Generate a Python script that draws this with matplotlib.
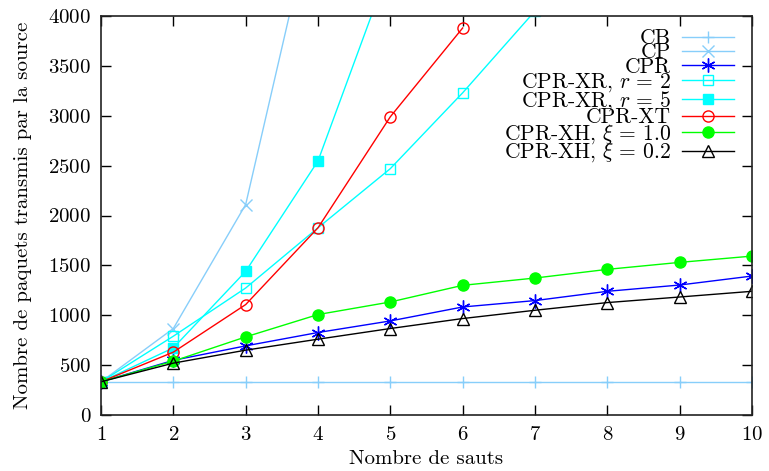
import matplotlib
matplotlib.use("Agg")
import matplotlib.pyplot as plt

plt.rcParams['font.family'] = ['cmr10', 'DejaVu Serif']
plt.rcParams['mathtext.fontset'] = 'cm'
plt.rcParams['axes.formatter.use_mathtext'] = True
plt.rcParams['axes.unicode_minus'] = False

x_all = [1, 2, 3, 4, 5, 6, 7, 8, 9, 10]
cb = [333, 333, 333, 333, 333, 333, 333, 333, 333, 333]
x_cp = [1, 2, 3, 4]
cp = [333, 867, 2110, 5250]
cpr = [333, 548, 693, 827, 943, 1083, 1147, 1240, 1303, 1393]
x_xr2 = [1, 2, 3, 4, 5, 6, 7]
xr2 = [333, 790, 1273, 1877, 2470, 3230, 4050]
x_xr5 = [1, 2, 3, 4, 5]
xr5 = [333, 673, 1440, 2547, 4520]
x_xt = [1, 2, 3, 4, 5, 6]
xt = [333, 630, 1107, 1877, 2990, 3880]
xh10 = [333, 540, 783, 1007, 1133, 1300, 1373, 1460, 1530, 1593]
xh02 = [333, 520, 650, 760, 867, 967, 1050, 1127, 1183, 1240]

fig = plt.figure(figsize=(7.69, 4.71), dpi=100)
ax = fig.add_axes([101/769, 1 - 415/471, (752 - 101)/769, (415 - 16)/471])

lw = 1.0
ax.plot(x_all, cb, color='#87cefa', marker='+', ms=9, mew=1, lw=lw, label='CB')
ax.plot(x_cp, cp, color='#87cefa', marker='x', ms=8, mew=1, lw=lw, label='CP')
ax.plot(x_all, cpr, color='#0000ff', marker=(6, 2, 0), ms=10, mew=1, lw=lw, label='CPR')
ax.plot(x_xr2, xr2, color='#00ffff', marker='s', mfc='none', ms=7, mew=1, lw=lw, label='CPR-XR, $r\\,=\\,2$')
ax.plot(x_xr5, xr5, color='#00ffff', marker='s', ms=7, mew=1, lw=lw, label='CPR-XR, $r\\,=\\,5$')
ax.plot(x_xt, xt, color='#ff0000', marker='o', mfc='none', ms=8, mew=1, lw=lw, label='CPR-XT')
ax.plot(x_all, xh10, color='#00ff00', marker='o', ms=8, mew=1, lw=lw, label=r'CPR-XH, $\xi\,=\,1.0$')
ax.plot(x_all, xh02, color='#000000', marker='^', mfc='none', ms=9, mew=1, lw=lw, label=r'CPR-XH, $\xi\,=\,0.2$')

ax.set_xlim(1, 10)
ax.set_ylim(0, 4000)
ax.set_xticks(x_all)
ax.set_yticks(range(0, 4001, 500))
ax.tick_params(direction='in', top=True, right=True, length=7, width=1, labelsize=15)
ax.tick_params(axis='x', pad=8)
ax.tick_params(axis='y', pad=7)
for s in ax.spines.values():
    s.set_linewidth(1.2)
    s.set_color('#222222')
ax.set_xlabel('Nombre de sauts', fontsize=15, labelpad=4)
ax.set_ylabel('Nombre de paquets transmis par la source', fontsize=15, labelpad=12)

leg = ax.legend(loc='upper right', frameon=False, markerfirst=False, fontsize=15.5,
                labelspacing=-0.24, handlelength=2.4, handletextpad=0.5,
                borderaxespad=0.0, bbox_to_anchor=(0.985, 0.99))
for t in leg.get_texts():
    t.set_ha('right')
leg._legend_box.align = 'right'

fig.savefig('out.png', dpi=100)
